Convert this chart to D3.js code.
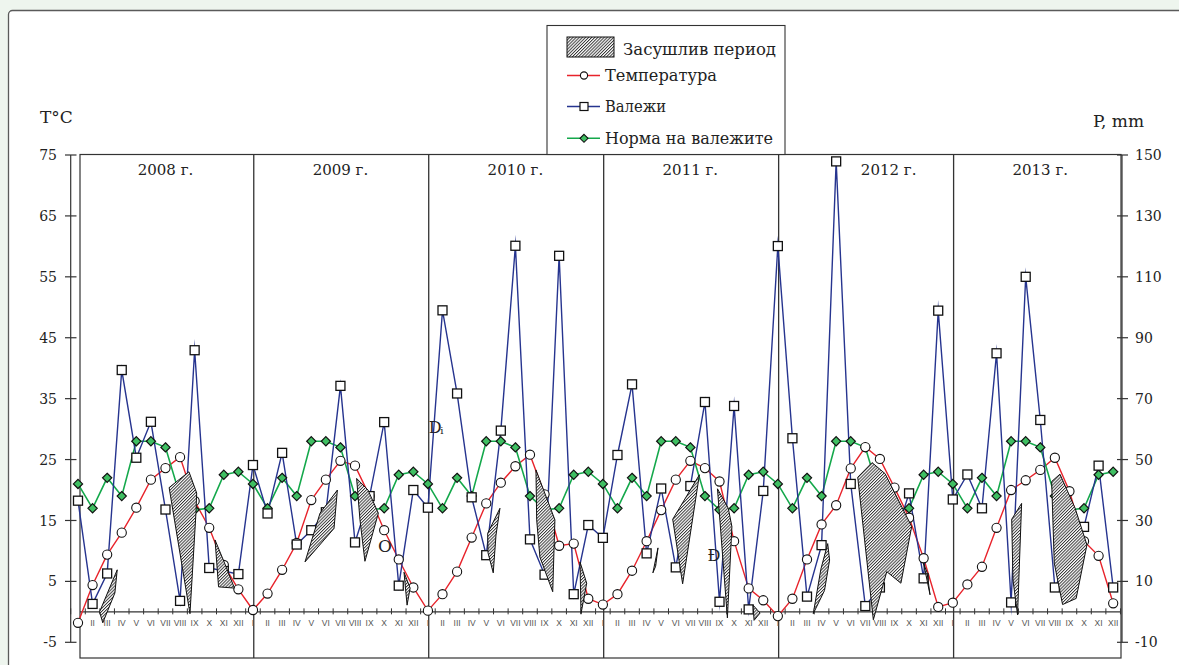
<!DOCTYPE html>
<html><head><meta charset="utf-8">
<script src="https://cdn.jsdelivr.net/npm/d3@7"></script>
<style>
html,body{margin:0;padding:0;background:#eef5ee;}
svg{display:block;}
</style></head><body>
<svg id="c" width="1179" height="665"></svg>
<script>
// ---------- DATA ----------
const years = ["2008 г.","2009 г.","2010 г.","2011 г.","2012 г.","2013 г."];
const months = ["I","II","III","IV","V","VI","VII","VIII","IX","X","XI","XII"];
// mean monthly temperature, °C (2008..2013, Jan..Dec)
const temperature = [
  -1.8, 4.4, 9.4, 13.0, 17.1, 21.7, 23.6, 25.4, 18.2, 13.8, 7.7, 3.7,
   0.3, 3.0, 6.9, 11.3, 18.35, 21.7, 24.8, 24.0, 19.0, 13.4, 8.6, 4.0,
   0.2, 2.9, 6.6, 12.2, 17.8, 21.2, 23.9, 25.8, 19.3, 10.85, 11.2, 2.15,
   1.2, 2.9, 6.75, 11.6, 16.7, 21.7, 24.8, 23.6, 21.4, 11.6, 3.85, 1.9,
  -0.7, 2.15, 8.6, 14.35, 17.5, 23.55, 27.05, 25.1, 20.4, 15.45, 8.8, 0.8,
   1.5, 4.5, 7.4, 13.8, 20.0, 21.6, 23.3, 25.3, 19.8, 11.6, 9.2, 1.4
];
// monthly precipitation, mm
const precipitation = [
  36.5, 2.6, 12.6, 79.4, 50.6, 62.4, 33.6, 3.6, 85.9, 14.4, 13.4, 12.4,
  48.2, 32.3, 52.2, 22.1, 26.8, 32.7, 74.2, 22.8, 38.0, 62.3, 8.6, 40.0,
  34.2, 99.0, 71.7, 37.6, 18.6, 59.5, 120.2, 23.8, 12.2, 116.9, 5.8, 28.5,
  24.3, 51.5, 74.7, 19.2, 40.5, 14.6, 41.3, 68.9, 3.3, 67.6, 0.8, 39.7,
  120.1, 57.0, 5.0, 21.9, 147.9, 42.0, 1.9, 8.0, 24.0, 38.9, 11.0, 98.9,
  36.9, 45.1, 34.0, 84.9, 3.1, 110.0, 63.0, 8.0, 18.0, 27.9, 48.0, 8.0
];
// precipitation norm, mm (same every year)
const precipNorm = [42, 34, 44, 38, 56, 56, 54, 38, 33.5, 34, 45, 46];
const tTicks = [-5, 5, 15, 25, 35, 45, 55, 65, 75];
const pTicks = [-10, 10, 30, 50, 70, 90, 110, 130, 150];
const yearLabelAt = [6, 18, 30, 42, 55.6, 66];
// drought period shapes: [month index (0 = Jan 2008), temperature-scale value]
const droughtPolygons = [
  [[1.48,0],[1.70,-1.8],[2.53,3.1],[2.69,6.9]],
  [[6.25,20.4],[7.61,23.0],[8.14,19.5],[8.09,16.2],[7.68,-0.3]],
  [[9.40,11.8],[9.64,4.1],[10.73,3.9],[10.02,8.2]],
  [[15.57,8.2],[16.60,16.2],[17.79,20.0],[17.56,13.7]],
  [[19.11,21.9],[19.89,20.0],[20.60,16.2],[19.68,8.3],[19.34,15.1]],
  [[22.36,6.5],[22.78,3.9],[22.57,1.1]],
  [[28.10,12.9],[28.94,17.0],[28.67,12.6],[28.48,6.4],[28.12,9.7]],
  [[31.41,23.3],[32.71,15.1],[32.56,3.3],[31.68,9.0],[31.46,15.1]],
  [[34.43,8.2],[34.89,4.7],[34.50,-0.3]],
  [[39.43,6.4],[39.78,10.5],[39.62,7.5]],
  [[40.79,15.2],[42.62,22.5],[41.47,4.6]],
  [[43.86,20.2],[44.60,17.0],[44.85,14.0],[44.54,-1.0]],
  [[46.30,1.1],[46.78,-0.2],[46.37,-1.4]],
  [[50.43,-0.3],[50.95,7.0],[51.42,11.2],[51.55,8.5],[51.20,3.5]],
  [[53.48,22.1],[54.46,24.5],[55.35,22.7],[57.18,14.0],[56.44,4.7],[55.47,6.6],[54.55,-1.3]],
  [[57.99,8.0],[58.44,2.8],[58.23,6.5]],
  [[64.04,15.2],[64.72,17.8],[64.44,-0.5],[64.13,5.2]],
  [[66.78,21.4],[67.35,22.6],[68.39,17.0],[69.20,11.0],[68.46,2.2],[67.53,1.2],[66.96,8.0]]
];
// stray glyphs printed in the original
const strayGlyphs = [
  {text:"O", i:21.06, v:10.8, size:17},
  {text:"D", i:24.5, v:30.3, size:16},
  {text:"i", i:24.95, v:29.8, size:10},
  {text:"Ð", i:43.62, v:9.3, size:16}
];
const legendItems = ["Засушлив период","Температура","Валежи","Норма на валежите"];

// ---------- CHART ----------
const RED = "#e8232b", BLUE = "#26348f", GREEN = "#14a84b";
const svg = d3.select("#c");
const N = temperature.length;
const x = d3.scaleLinear().domain([0, N - 1]).range([78, 78 + (N - 1) * 14.58]);
const yT = d3.scaleLinear().domain([-5, 75]).range([642.3, 155]);
const yP = d3.scaleLinear().domain([-10, 150]).range([642.3, 155]);

const defs = svg.append("defs");
const pat = defs.append("pattern").attr("id", "hatch").attr("patternUnits", "userSpaceOnUse")
  .attr("width", 2.2).attr("height", 2.2).attr("patternTransform", "rotate(45)");
pat.append("rect").attr("width", 2.2).attr("height", 2.2).attr("fill", "#fff");
pat.append("line").attr("x1", 0.5).attr("y1", 0).attr("x2", 0.5).attr("y2", 2.2)
  .attr("stroke", "#1a1a1a").attr("stroke-width", 0.85);

// outer panel
svg.append("rect").attr("x", 8.5).attr("y", 10.5).attr("width", 1200).attr("height", 700)
  .attr("rx", 4).attr("fill", "#fff").attr("stroke", "#5a5a5a").attr("stroke-width", 1.3);

const frameL = 80, frameR = 1121, frameT = 154.5, frameB = 658;
// plot frame
svg.append("rect").attr("x", frameL).attr("y", frameT).attr("width", frameR - frameL)
  .attr("height", frameB - frameT).attr("fill", "none").attr("stroke", "#333").attr("stroke-width", 1.2);

// year dividers
for (let k = 1; k < years.length; k++) {
  const xx = x(12 * k) + 0.8;
  svg.append("line").attr("x1", xx).attr("x2", xx).attr("y1", frameT).attr("y2", frameB)
    .attr("stroke", "#333").attr("stroke-width", 1.3);
}

// zero baseline with month ticks
const y0 = yT(0);
svg.append("line").attr("x1", frameL).attr("x2", frameR).attr("y1", y0).attr("y2", y0)
  .attr("stroke", "#333").attr("stroke-width", 1.1);
svg.append("g").selectAll("line").data(d3.range(-1, N)).join("line")
  .attr("x1", d => x(d + 0.5)).attr("x2", d => x(d + 0.5))
  .attr("y1", y0 - 3.5).attr("y2", y0 + 2.5).attr("stroke", "#333").attr("stroke-width", 1);
svg.append("g").selectAll("text").data(d3.range(N)).join("text")
  .attr("x", d => x(d)).attr("y", y0 + 14.5).attr("text-anchor", "middle")
  .attr("font-family", "Liberation Sans, Arial, sans-serif").attr("font-size", 8.5)
  .attr("fill", "#555").text(d => months[d % 12]);

// left axis
const axL = 70.7;
svg.append("line").attr("x1", axL).attr("x2", axL).attr("y1", yT(75)).attr("y2", yT(-5))
  .attr("stroke", "#333").attr("stroke-width", 1.2);
const gl = svg.append("g");
gl.selectAll("line").data(tTicks).join("line").attr("x1", 65).attr("x2", 76.5)
  .attr("y1", d => yT(d)).attr("y2", d => yT(d)).attr("stroke", "#333").attr("stroke-width", 1.2);
gl.selectAll("text").data(tTicks).join("text").attr("x", 57).attr("y", d => yT(d))
  .attr("dy", "0.36em").attr("text-anchor", "end").attr("font-family", "DejaVu Serif, serif")
  .attr("font-size", 14).attr("fill", "#222").text(d => d);

// right axis
const axR = 1122;
svg.append("line").attr("x1", axR).attr("x2", axR).attr("y1", yP(150)).attr("y2", yP(-10))
  .attr("stroke", "#333").attr("stroke-width", 1.2);
const gr = svg.append("g");
gr.selectAll("line").data(pTicks).join("line").attr("x1", 1117).attr("x2", 1128)
  .attr("y1", d => yP(d)).attr("y2", d => yP(d)).attr("stroke", "#333").attr("stroke-width", 1.2);
gr.selectAll("text").data(pTicks).join("text").attr("x", 1135).attr("y", d => yP(d))
  .attr("dy", "0.36em").attr("text-anchor", "start").attr("font-family", "DejaVu Serif, serif")
  .attr("font-size", 14).attr("fill", "#222").text(d => d);

// axis titles
svg.append("text").attr("x", 40).attr("y", 123).attr("font-family", "DejaVu Serif, serif")
  .attr("font-size", 17).attr("fill", "#222").text("T°C");
svg.append("text").attr("x", 1093).attr("y", 127).attr("font-family", "DejaVu Serif, serif")
  .attr("font-size", 17).attr("fill", "#222").text("P, mm");

// year labels
svg.append("g").selectAll("text").data(years).join("text")
  .attr("x", (d, k) => x(yearLabelAt[k])).attr("y", 175).attr("text-anchor", "middle")
  .attr("font-family", "DejaVu Serif, serif").attr("font-size", 15).attr("fill", "#222").text(d => d);

// lines
const idx = d3.range(N);
const normAll = idx.map(i => precipNorm[i % 12]);
svg.append("path").datum(idx).attr("fill", "none").attr("stroke", RED).attr("stroke-width", 1.4)
  .attr("d", d3.line().x(i => x(i)).y(i => yT(temperature[i])));
svg.append("path").datum(idx).attr("fill", "none").attr("stroke", GREEN).attr("stroke-width", 1.6)
  .attr("d", d3.line().x(i => x(i)).y(i => yP(normAll[i])));
svg.append("path").datum(idx).attr("fill", "none").attr("stroke", BLUE).attr("stroke-width", 1.4)
  .attr("stroke-miterlimit", 20).attr("stroke-linejoin", "miter")
  .attr("d", d3.line().x(i => x(i)).y(i => yP(precipitation[i])));

// markers
const diamond = (cx, cy, r) => `M${cx},${cy - r}L${cx + r},${cy}L${cx},${cy + r}L${cx - r},${cy}Z`;
svg.append("g").selectAll("path").data(idx).join("path")
  .attr("d", i => diamond(x(i), yP(normAll[i]), 4.6))
  .attr("fill", "#3fbf62").attr("stroke", "#111").attr("stroke-width", 1.2);
svg.append("g").selectAll("circle").data(idx).join("circle")
  .attr("cx", i => x(i)).attr("cy", i => yT(temperature[i])).attr("r", 4.6)
  .attr("fill", "#fff").attr("stroke", "#111").attr("stroke-width", 1.1);
svg.append("g").selectAll("rect").data(idx).join("rect")
  .attr("x", i => x(i) - 4.5).attr("y", i => yP(precipitation[i]) - 4.5)
  .attr("width", 9).attr("height", 9)
  .attr("fill", "#fff").attr("stroke", "#111").attr("stroke-width", 1.3);

// drought polygons
svg.append("g").selectAll("path").data(droughtPolygons).join("path")
  .attr("d", p => d3.line().x(d => x(d[0])).y(d => yT(d[1]))(p) + "Z")
  .attr("fill", "url(#hatch)").attr("stroke", "#111").attr("stroke-width", 1);

// stray glyphs
svg.append("g").selectAll("text").data(strayGlyphs).join("text")
  .attr("x", d => x(d.i)).attr("y", d => yT(d.v)).attr("dy", "0.35em").attr("text-anchor", "middle")
  .attr("font-family", "DejaVu Serif, serif").attr("font-size", d => d.size).attr("fill", "#222")
  .text(d => d.text);

// legend
const lg = svg.append("g");
lg.append("rect").attr("x", 547).attr("y", 25.5).attr("width", 238).attr("height", 129)
  .attr("fill", "#fff").attr("stroke", "#333").attr("stroke-width", 1.1);
lg.append("rect").attr("x", 567).attr("y", 37).attr("width", 47).attr("height", 20)
  .attr("fill", "url(#hatch)").attr("stroke", "#111").attr("stroke-width", 1);
const legY = [55, 80.5, 112, 144];
const legW = [153, 112, 61, 168];
const legMid = [null, 75.5, 106.5, 138.3];
lg.selectAll("text").data(legendItems).join("text")
  .attr("x", (d, k) => k === 0 ? 623 : 605).attr("y", (d, k) => legY[k])
  .attr("font-family", "DejaVu Serif, serif").attr("font-size", 16).attr("fill", "#222")
  .attr("textLength", (d, k) => legW[k]).attr("lengthAdjust", "spacingAndGlyphs")
  .text(d => d);
const legColors = [null, RED, BLUE, GREEN];
for (let k = 1; k < 4; k++) {
  const yy = legMid[k];
  lg.append("line").attr("x1", 567).attr("x2", 600).attr("y1", yy).attr("y2", yy)
    .attr("stroke", legColors[k]).attr("stroke-width", 1.4);
  if (k === 1) lg.append("circle").attr("cx", 584).attr("cy", yy).attr("r", 3.6)
    .attr("fill", "#fff").attr("stroke", "#111").attr("stroke-width", 1.1);
  if (k === 2) lg.append("rect").attr("x", 580).attr("y", yy - 4).attr("width", 8).attr("height", 8)
    .attr("fill", "#fff").attr("stroke", "#111").attr("stroke-width", 1.2);
  if (k === 3) lg.append("path").attr("d", diamond(584, yy, 4))
    .attr("fill", "#3fbf62").attr("stroke", "#111").attr("stroke-width", 1.1);
}
</script>
</body></html>
